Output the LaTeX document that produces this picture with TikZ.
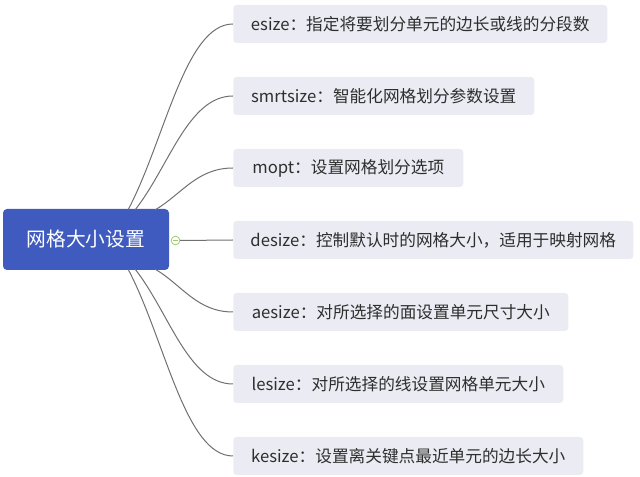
\documentclass[tikz,border=0pt]{standalone}
\usepackage{fontspec}
\setmainfont{Noto Sans CJK SC}
\usetikzlibrary{calc}
\definecolor{mainblue}{HTML}{3F5BBF}
\definecolor{boxfill}{HTML}{EBECF3}
\definecolor{linegray}{HTML}{707070}
\definecolor{txtgray}{HTML}{2E2E2E}
\definecolor{toggreen}{HTML}{9CCB6E}
\begin{document}
\begin{tikzpicture}[x=0.75pt,y=-0.75pt,
  leaf/.style={draw=none,fill=boxfill,rounded corners=2.5pt,anchor=west,
    minimum height=28.5pt,inner sep=0pt,text=txtgray,font=\fontsize{12.5}{14}\selectfont},
  root/.style={fill=mainblue,rounded corners=3pt,text=white,
    minimum width=124.5pt,minimum height=45.75pt,inner sep=0pt,
    font=\fontsize{14.8}{17}\selectfont},
  conn/.style={draw=linegray,line width=0.75pt},
  tog/.style={circle,draw=toggreen,fill=white,line width=0.6pt,minimum size=6.5pt,inner sep=0pt}
]
\useasboundingbox (0,0) rectangle (640,477);
\node[root] (c) at (86,239.5) {网格大小设置};
\node[leaf,minimum width=280.5pt] (b1) at (233,24) {esize：指定将要划分单元的边长或线的分段数};
\node[leaf,minimum width=225.75pt] (b2) at (233,96) {smrtsize：智能化网格划分参数设置};
\node[leaf,minimum width=172.5pt] (b3) at (233,168) {mopt：设置网格划分选项};
\node[leaf,minimum width=300pt] (b4) at (233,240) {desize：控制默认时的网格大小，适用于映射网格};
\node[leaf,minimum width=251.25pt] (b5) at (233,312) {aesize：对所选择的面设置单元尺寸大小};
\node[leaf,minimum width=247.5pt] (b6) at (233,384) {lesize：对所选择的线设置网格单元大小};
\node[leaf,minimum width=262.5pt] (b7) at (233,456) {kesize：设置离关键点最近单元的边长大小};
\coordinate (s1) at (128,210);
\coordinate (s2) at (135,210);
\coordinate (s3) at (155,210);
\coordinate (s5) at (155,269);
\coordinate (s6) at (135,269);
\coordinate (s7) at (128,269);
\draw[conn] (s1) .. controls (165,140) and (185,24) .. (b1.west);
\draw[conn] (s2) .. controls (169,167) and (188,96) .. (b2.west);
\draw[conn] (s3) .. controls (182,194) and (197,168) .. (b3.west);
\draw[conn] (s5) .. controls (182,285) and (197,312) .. (b5.west);
\draw[conn] (s6) .. controls (169,312) and (188,384) .. (b6.west);
\draw[conn] (s7) .. controls (165,339) and (185,456) .. (b7.west);
\node[tog] (t) at (175.5,240.5) {};
\draw[conn] (t.east) -- (b4.west);
\draw[draw=toggreen,line width=0.6pt] ($(t.center)+(-2.5,0)$) -- ($(t.center)+(2.5,0)$);
\end{tikzpicture}
\end{document}
